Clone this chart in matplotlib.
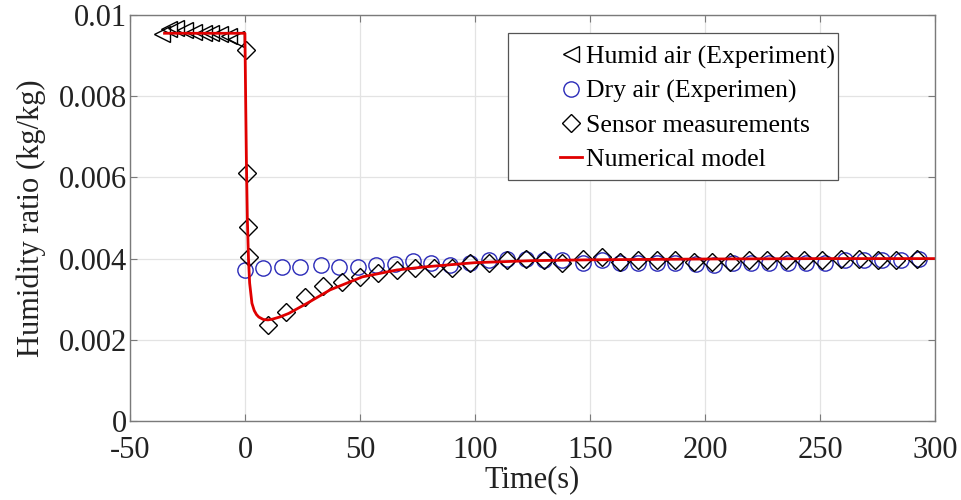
import matplotlib
matplotlib.use('Agg')
import matplotlib.pyplot as plt
from matplotlib.patches import Rectangle

plt.rcParams['font.family'] = ['Liberation Serif', 'DejaVu Serif']

# humid air experiment (left triangles)
humid_t = [-36, -33, -30, -26, -22, -18, -15, -11, -7, -4]
humid_y = [0.00952, 0.00965, 0.00968, 0.00962, 0.00958, 0.00955, 0.00955, 0.00952, 0.00948, 0.0094]

# dry air experiment (circles)
dry_t = [0, 8, 16, 24, 33, 41, 49, 57, 65, 73, 81, 89, 98, 106, 114, 122, 130, 138, 147,
         155, 163, 171, 179, 187, 196, 204, 212, 220, 228, 236, 244, 252, 261, 269, 277, 285, 293]
dry_y = [0.00373, 0.00377, 0.0038, 0.0038, 0.00384, 0.0038, 0.0038, 0.00384, 0.00387, 0.00395,
         0.0039, 0.00385, 0.0039, 0.00396, 0.004, 0.004, 0.00397, 0.00397, 0.0039, 0.00397,
         0.0039, 0.0039, 0.0039, 0.0039, 0.00386, 0.00384, 0.0039, 0.0039, 0.0039, 0.0039,
         0.0039, 0.0039, 0.00397, 0.00397, 0.00397, 0.00397, 0.004]

# sensor measurements (diamonds)
sensor_t = [0.3, 0.8, 1.2, 1.6, 10, 18, 26, 34, 42, 50, 58, 66, 74, 82, 90, 98, 106, 114, 122,
            130, 138, 147, 155, 163, 171, 179, 187, 195, 203, 211, 219, 227, 235, 243, 251,
            259, 267, 275, 283, 292]
sensor_y = [0.00914, 0.0061, 0.00478, 0.00404, 0.00236, 0.00268, 0.00305, 0.00333, 0.00342,
            0.00355, 0.00364, 0.00372, 0.00377, 0.00377, 0.00377, 0.0039, 0.0039, 0.00397,
            0.004, 0.00397, 0.0039, 0.004, 0.00405, 0.00392, 0.00397, 0.00397, 0.00397,
            0.00392, 0.00392, 0.00392, 0.00397, 0.00397, 0.00397, 0.00397, 0.00397, 0.004,
            0.004, 0.00397, 0.00397, 0.004]

# numerical model (red line)
model_t = [-35, -0.05, 0, 0.3, 0.6, 1.0, 1.5, 2, 3, 4, 5, 6, 8, 10, 12, 15, 19, 27, 37, 51,
           66, 79, 100, 125, 150, 200, 250, 300]
model_y = [0.00955, 0.00955, 0.0093, 0.0078, 0.0064, 0.0050, 0.0040, 0.0034, 0.0029, 0.00272,
           0.00262, 0.00256, 0.0025, 0.00249, 0.00251, 0.00256, 0.00265, 0.0029, 0.00323,
           0.00355, 0.00372, 0.0038, 0.0039, 0.00395, 0.00397, 0.00399, 0.004, 0.004]

fig = plt.figure(figsize=(9.61, 5.0), dpi=100)
ax = fig.add_axes([0.1353, 0.158, 0.8377, 0.812])

ax.plot(humid_t, humid_y, linestyle='none', marker='<', markersize=12,
        markerfacecolor='none', markeredgecolor='black', markeredgewidth=1.0,
        label='Humid air (Experiment)')
ax.plot(dry_t, dry_y, linestyle='none', marker='o', markersize=11,
        markerfacecolor='none', markeredgecolor='#2a2ab8', markeredgewidth=1.0,
        label='Dry air (Experimen)')
ax.plot(sensor_t, sensor_y, linestyle='none', marker='D', markersize=9,
        markerfacecolor='none', markeredgecolor='black', markeredgewidth=1.0,
        label='Sensor measurements')
ax.plot(model_t, model_y, color='#e00000', linewidth=2.0, label='Numerical model')

ax.set_xlim(-50, 300)
ax.set_ylim(0, 0.01)
ax.set_xticks([-50, 0, 50, 100, 150, 200, 250, 300])
ax.set_yticks([0, 0.002, 0.004, 0.006, 0.008, 0.01])
ax.set_yticklabels(['0', '0.002', '0.004', '0.006', '0.008', '0.01'])
ax.set_xticklabels(['-50', '0', '50', '100', '150', '200', '250', '300'])

ax.grid(True, color='#e3e3e3', linewidth=0.9)
ax.set_axisbelow(True)
for s in ax.spines.values():
    s.set_color('#7a7a7a')
    s.set_linewidth(1.0)
ax.tick_params(direction='in', length=5, width=0.8, color='#7a7a7a',
               top=True, right=True, labelsize=22, labelcolor='#222222')
ax.tick_params(axis='x', pad=11)
ax.tick_params(axis='y', pad=2)

ax.set_xlabel('Time(s)', fontsize=22, color='#222222', labelpad=0)
ax.set_ylabel('Humidity ratio (kg/kg)', fontsize=22, color='#222222', labelpad=9)

# legend frame drawn separately so the handles sit well inside the box
ax.add_patch(Rectangle((0.4696, 0.5936), 0.41, 0.362, transform=ax.transAxes,
                       facecolor='white', edgecolor='#555555', linewidth=0.9, zorder=4))
leg = ax.legend(loc='upper left', bbox_to_anchor=(0.534, 0.925), borderaxespad=0,
                fontsize=18.5, frameon=False, handlelength=0.86, handletextpad=0.15,
                labelspacing=0.42, borderpad=0)
leg.set_zorder(5)

fig.savefig('out.png', dpi=100)
